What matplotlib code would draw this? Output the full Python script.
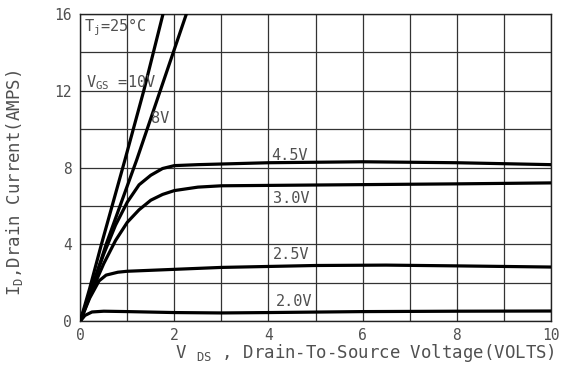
import matplotlib
matplotlib.use("Agg")
import matplotlib.pyplot as plt

# output characteristics
vds_10v = [0, 0.2, 0.45, 0.95, 1.35, 1.77]
id_10v = [0, 1.7, 4.0, 8.4, 12.0, 16.1]

vds_8v = [0, 0.3, 0.55, 1.2, 1.7, 2.27]
id_8v = [0, 2.1, 4.0, 8.4, 12.0, 16.1]

vds_45v = [0, 0.25, 0.5, 0.75, 1.0, 1.25, 1.5, 1.75, 2.0, 2.5, 4, 6, 8, 10]
id_45v = [0, 1.8, 3.5, 5.0, 6.2, 7.1, 7.6, 7.95, 8.1, 8.15, 8.25, 8.3, 8.25, 8.15]

vds_3v = [0, 0.25, 0.5, 0.75, 1.0, 1.25, 1.5, 1.75, 2.0, 2.5, 3, 5.5, 8, 10]
id_3v = [0, 1.6, 3.0, 4.2, 5.15, 5.8, 6.3, 6.6, 6.8, 6.98, 7.05, 7.1, 7.15, 7.2]

vds_25v = [0, 0.2, 0.4, 0.55, 0.8, 1, 2, 3, 5, 6.5, 8, 10]
id_25v = [0, 1.2, 2.1, 2.4, 2.55, 2.6, 2.7, 2.8, 2.9, 2.92, 2.88, 2.82]

vds_2v = [0, 0.1, 0.25, 0.5, 1, 2, 3, 4, 6, 8, 10]
id_2v = [0, 0.3, 0.48, 0.52, 0.5, 0.45, 0.43, 0.45, 0.5, 0.52, 0.53]

x_ticks = [0, 2, 4, 6, 8, 10]
y_ticks = [0, 4, 8, 12, 16]

txt = "#505050"
plt.rcParams['font.family'] = ['DejaVu Sans Mono', 'DejaVu Sans']
plt.rcParams['mathtext.default'] = 'regular'

fig = plt.figure(figsize=(5.65, 3.65), dpi=100)
ax = fig.add_axes([0.142, 0.12, 0.833, 0.842])

for xs, ys in [(vds_10v, id_10v), (vds_8v, id_8v), (vds_45v, id_45v),
               (vds_3v, id_3v), (vds_25v, id_25v), (vds_2v, id_2v)]:
    ax.plot(xs, ys, color="black", lw=2.3, solid_capstyle="round", zorder=3)

ax.set_xlim(0, 10)
ax.set_ylim(0, 16)
ax.set_xticks(x_ticks)
ax.set_yticks(y_ticks)
ax.set_xticks(range(0, 11), minor=True)
ax.set_yticks(range(0, 17, 2), minor=True)
ax.grid(which="both", color="#333333", lw=0.9)
ax.tick_params(which="both", length=0, colors=txt, labelsize=10.5)
ax.tick_params(axis="x", pad=5)
ax.tick_params(axis="y", pad=6)
for s in ax.spines.values():
    s.set_color("#222222")
    s.set_linewidth(1.0)

fs = 11
ax.text(0.08, 15.1, "T$_j$=25°C", color=txt, fontsize=fs)
ax.text(0.12, 12.2, "V$_{GS}$ =10V", color=txt, fontsize=fs)
ax.text(1.5, 10.3, "8V", color=txt, fontsize=fs)
ax.text(4.05, 8.4, "4.5V", color=txt, fontsize=fs)
ax.text(4.1, 6.15, "3.0V", color=txt, fontsize=fs)
ax.text(4.1, 3.25, "2.5V", color=txt, fontsize=fs)
ax.text(4.15, 0.8, "2.0V", color=txt, fontsize=fs)

ax.set_xlabel("V $_{DS}$ , Drain-To-Source Voltage(VOLTS)", color=txt,
              fontsize=12.5)
ax.xaxis.set_label_coords(0.605, -0.068)
ax.set_ylabel("I$_D$,Drain Current(AMPS)", color=txt, fontsize=12.5)
ax.yaxis.set_label_coords(-0.118, 0.45)

fig.savefig("out.png", dpi=100)
